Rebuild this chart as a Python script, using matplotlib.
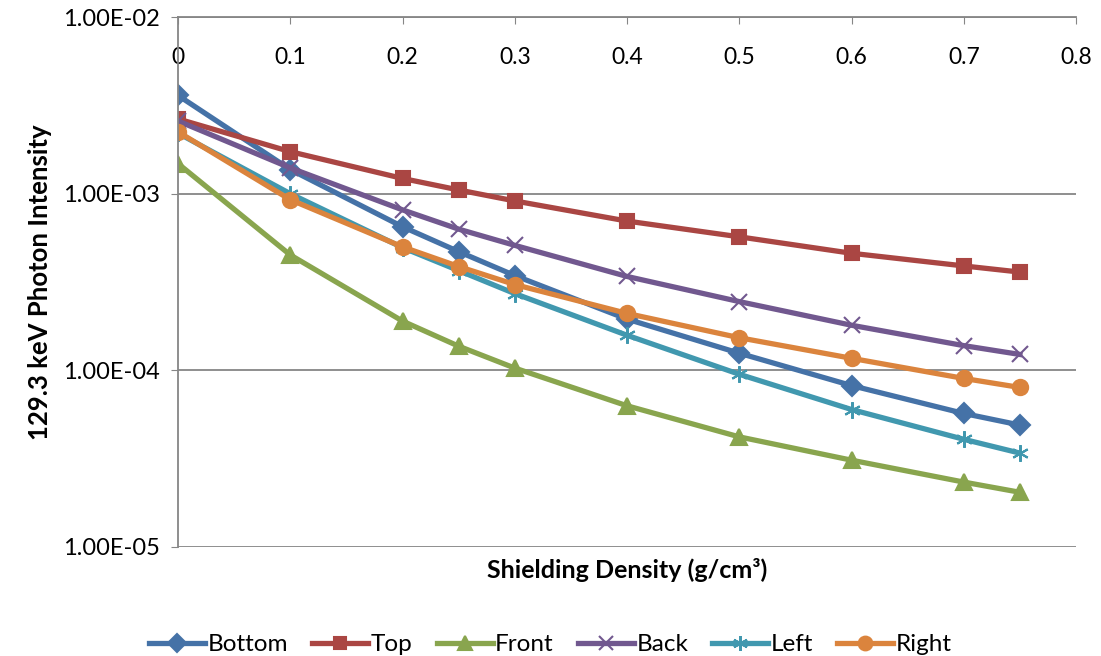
import numpy as np
from matplotlib import pyplot as plt
from matplotlib.ticker import FixedLocator, NullLocator

plt.rcParams['font.family'] = ['Lato', 'DejaVu Sans']

density = [0, 0.1, 0.2, 0.25, 0.3, 0.4, 0.5, 0.6, 0.7, 0.75]

bottom = [3.6e-3, 1.37e-3, 6.5e-4, 4.7e-4, 3.44e-4, 1.95e-4, 1.25e-4, 8.2e-5, 5.7e-5, 4.9e-5]
top = [2.65e-3, 1.73e-3, 1.22e-3, 1.05e-3, 9.1e-4, 7.0e-4, 5.7e-4, 4.6e-4, 3.9e-4, 3.6e-4]
front = [1.48e-3, 4.5e-4, 1.9e-4, 1.37e-4, 1.03e-4, 6.3e-5, 4.2e-5, 3.1e-5, 2.33e-5, 2.04e-5]
back = [2.58e-3, 1.4e-3, 8.1e-4, 6.3e-4, 5.1e-4, 3.4e-4, 2.45e-4, 1.8e-4, 1.38e-4, 1.23e-4]
left = [2.2e-3, 1.0e-3, 4.95e-4, 3.67e-4, 2.72e-4, 1.58e-4, 9.5e-5, 6.0e-5, 4.07e-5, 3.4e-5]
right = [2.24e-3, 9.25e-4, 5.0e-4, 3.87e-4, 3.06e-4, 2.1e-4, 1.53e-4, 1.17e-4, 9.0e-5, 8.0e-5]

series = [
    ('Bottom', bottom, '#4572A7', 'D', 10),
    ('Top', top, '#AA4643', 's', 10),
    ('Front', front, '#89A54E', '^', 11),
    ('Back', back, '#71588F', 'x', 11),
    ('Left', left, '#4198AF', (6, 2, 0), 12),
    ('Right', right, '#DB843D', 'o', 11),
]

fig = plt.figure(figsize=(11.01, 6.56), dpi=100)
ax = fig.add_axes([0.1617, 0.1662, 0.8156, 0.8078])

for name, vals, color, marker, ms in series:
    ax.plot(density, vals, color=color, lw=3.8, marker=marker, ms=ms,
            mew=1.5, mec=color, mfc=color, label=name)

ax.set_yscale('log')
ax.set_ylim(1e-5, 1e-2)
ax.set_xlim(0, 0.8)
ax.yaxis.set_major_locator(FixedLocator([1e-5, 1e-4, 1e-3, 1e-2]))
ax.yaxis.set_minor_locator(NullLocator())
ax.set_yticklabels(['1.00E-05', '1.00E-04', '1.00E-03', '1.00E-02'])
ax.set_xticks(np.arange(0, 0.81, 0.1))
ax.set_xticklabels(['0', '0.1', '0.2', '0.3', '0.4', '0.5', '0.6', '0.7', '0.8'])

ax.grid(axis='y', color='#868686', lw=1.3)
ax.set_axisbelow(True)
for s in ['right', 'bottom']:
    ax.spines[s].set_visible(False)
for s in ['left', 'top']:
    ax.spines[s].set_color('#868686')
    ax.spines[s].set_linewidth(1.3)

ax.tick_params(axis='x', top=True, bottom=False, labeltop=True, labelbottom=False,
               direction='in', length=5, color='#868686', pad=-37, labelsize=16.5)
ax.tick_params(axis='y', direction='out', length=5, color='#868686', labelsize=17, pad=8)

ax.set_ylabel('129.3 keV Photon Intensity', fontsize=18.5, fontweight='bold', labelpad=8)
ax.set_xlabel('Shielding Density (g/cm³)', fontsize=18, fontweight='bold', labelpad=8)

fig.legend(loc='lower center', bbox_to_anchor=(0.5, -0.032), ncol=6, frameon=False,
           fontsize=17.5, handlelength=2.3, handletextpad=0.1, columnspacing=1.0,
           markerscale=0.9)

fig.savefig('out.png', dpi=100)
